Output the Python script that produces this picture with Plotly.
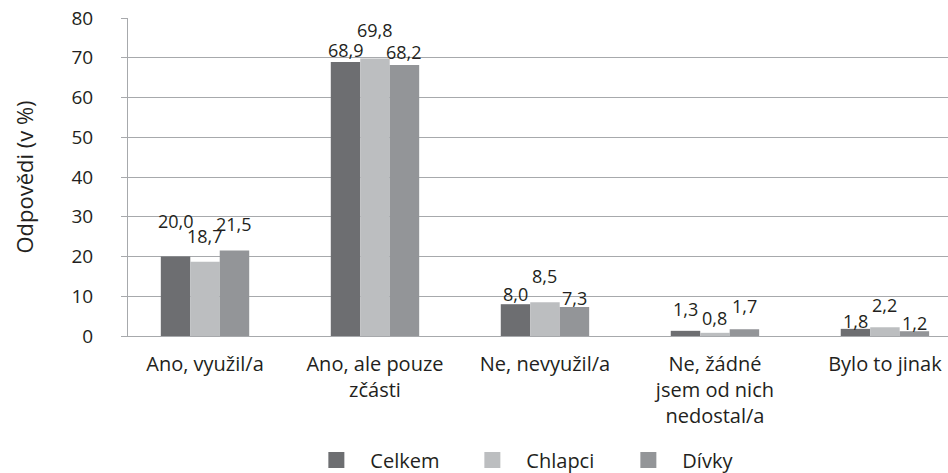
import plotly.graph_objects as go

categories = [
    "Ano, využil/a",
    "Ano, ale pouze<br>zčásti",
    "Ne, nevyužil/a",
    "Ne, žádné<br>jsem od nich<br>nedostal/a",
    "Bylo to jinak",
]
series_names = ["Celkem", "Chlapci", "Dívky"]
celkem = [20.0, 68.9, 8.0, 1.3, 1.8]
chlapci = [18.7, 69.8, 8.5, 0.8, 2.2]
divky = [21.5, 68.2, 7.3, 1.7, 1.2]
y_ticks = [0, 10, 20, 30, 40, 50, 60, 70, 80]

colors = ["#6d6e71", "#bcbec0", "#939598"]
text_color = "#231f20"
grid_color = "#a7a9ac"
font_family = "Open Sans"

# label lift above bar top (px) - the original labels were staggered by hand
label_lift = [
    [36, 12, 10, 22, 8],
    [26, 29, 26, 15, 22],
    [27, 13, 9, 23, 8],
]

x_range = [-0.453, 4.371]
plot_w = 820
bargap = 0.48
bar_px = (1 - bargap) / 3 * plot_w / (x_range[1] - x_range[0])

fig = go.Figure()
all_values = [celkem, chlapci, divky]
for name, vals, col in zip(series_names, all_values, colors):
    fig.add_trace(
        go.Bar(x=categories, y=vals, name=name, marker=dict(color=col, line=dict(width=0)),
               showlegend=False)
    )
    # legend entry with bigger square
    fig.add_trace(
        go.Scatter(x=[None], y=[None], mode="markers", name=name,
                   marker=dict(symbol="square", size=16, color=col))
    )

annotations = []
for i, vals in enumerate(all_values):
    for j, v in enumerate(vals):
        annotations.append(dict(
            x=categories[j], y=v, xref="x", yref="y",
            text=f"{v:.1f}".replace(".", ","),
            showarrow=False, xshift=(i - 1) * bar_px,
            yanchor="middle", yshift=label_lift[i][j],
            font=dict(size=18, color=text_color, family=font_family),
        ))

fig.update_layout(
    width=948,
    height=473,
    margin=dict(l=128, r=0, t=18, b=137, autoexpand=False),
    barmode="group",
    bargap=bargap,
    bargroupgap=0,
    plot_bgcolor="white",
    paper_bgcolor="white",
    font=dict(family=font_family, size=20, color=text_color),
    annotations=annotations,
    legend=dict(
        orientation="h", x=0.498, xanchor="center", y=-0.39, yanchor="middle",
        font=dict(size=20, color=text_color), itemwidth=58,
        entrywidth=83, entrywidthmode="pixels",
    ),
)
fig.update_xaxes(
    type="category",
    range=x_range,
    automargin=False,
    showline=True,
    linecolor=grid_color,
    linewidth=1,
    showgrid=False,
    tickfont=dict(size=20, color=text_color),
    ticklabelstandoff=10,
    ticklabeloverflow="allow",
)
fig.update_yaxes(
    range=[0, 80],
    automargin=False,
    tickvals=y_ticks,
    showgrid=True,
    gridcolor=grid_color,
    gridwidth=1,
    showline=True,
    linecolor=grid_color,
    ticks="outside",
    ticklen=6,
    tickcolor=grid_color,
    ticklabelstandoff=24,
    ticklabeloverflow="allow",
    tickfont=dict(size=19, color=text_color),
    title=dict(text="Odpovědi (v %)", font=dict(size=22, color=text_color), standoff=31),
    zeroline=False,
)

# drop the default 8px body margin so the figure sits at the page corner
fig.write_html(
    "out.html",
    config={"displayModeBar": False},
    post_script="document.body.style.margin = '0px';",
)
